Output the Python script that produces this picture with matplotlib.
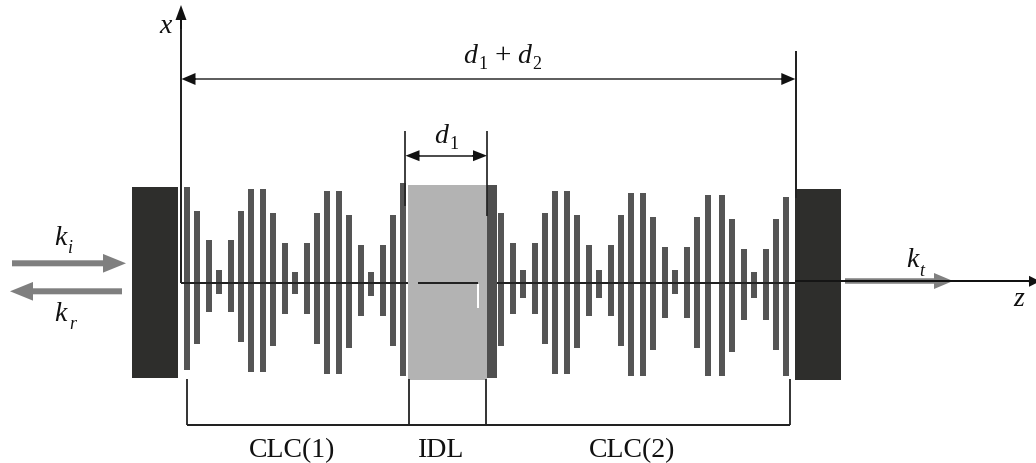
#layered CLC / IDL structure sketch, everything in picture pixel units
import matplotlib
matplotlib.use("Agg")
import matplotlib.pyplot as plt

#grating bars: left edge, top, bottom
clc1_left = [184, 194, 206, 216.3, 228, 238.3, 248.3, 260.3, 270.3, 282.3, 292.3, 304.3, 314.3, 324.3, 336.3, 346.3, 358.3, 368.3, 380.3, 390.3, 400.3]
clc1_top = [187.7, 211.7, 241.3, 271.3, 241.3, 211.7, 189.7, 189.7, 213.7, 243.7, 273.3, 243.7, 213.7, 191.7, 191.7, 215.7, 245.7, 273.3, 245.7, 215.7, 183.7]
clc1_bottom = [371, 345, 313.3, 295.3, 313.3, 343.3, 373, 373, 347, 315.3, 295.3, 315.3, 345, 375, 375, 349, 317, 297.3, 317, 347, 377]

clc2_left = [498.3, 510.3, 520.3, 532.3, 542.3, 552.3, 564.3, 574.3, 586.3, 596.3, 608.3, 618.3, 628.3, 640.3, 650.3, 662.3, 672.3, 684.3, 694.3, 704.7, 718.7, 728.7, 740.7, 750.7, 762.7, 772.7, 782.7]
clc2_top = [213.7, 243.7, 271.3, 243.7, 213.7, 191.7, 191.7, 215.7, 245.7, 271.3, 245.7, 215.7, 193.7, 193.7, 217.7, 247.7, 271.3, 247.7, 217.7, 195.7, 195.7, 219.7, 249.7, 273.3, 249.7, 219.7, 197.7]
clc2_bottom = [347, 315.3, 299.3, 315.3, 345, 375, 375, 349, 317, 299.3, 317, 347, 377, 377, 351, 319, 295.3, 319, 349, 377, 377, 353, 321, 299.3, 321, 351, 377]
bar_width = 6

#blocks: left, right, top, bottom
mirror_left = [132.3, 178.3, 187.7, 379]
mirror_right = [795.3, 840.7, 189.7, 381]
idl_block = [408.3, 486.7, 185.7, 380.7]
thick_bar = [486.7, 496.7, 185.7, 379]

section_ticks = [187, 409, 485.5, 790]
section_names = ["CLC(1)", "IDL", "CLC(2)"]
section_x = [292, 441, 632]

plt.rcParams["font.family"] = ["Liberation Serif", "DejaVu Serif"]
fig = plt.figure(figsize=(10.36, 4.64), dpi=100)
ax = fig.add_axes([0, 0, 1, 1])
ax.set_xlim(0, 1036)
ax.set_ylim(464, 0)
ax.axis("off")


def block(b, color, z=2):
    ax.fill([b[0], b[1], b[1], b[0]], [b[2], b[2], b[3], b[3]], color=color, lw=0, zorder=z)


def line(x, y, w=2, color="#222222", z=5):
    ax.plot(x, y, color=color, lw=w * 0.72, solid_capstyle="butt", zorder=z)


def arrow(x0, y0, x1, y1, shaft, head_w, head_l, color="#111111", z=6):
    ax.arrow(x0, y0, x1 - x0, y1 - y0, width=shaft, head_width=head_w, head_length=head_l,
             length_includes_head=True, color=color, lw=0, zorder=z)


#bars and blocks
for left, top, bottom in zip(clc1_left + clc2_left, clc1_top + clc2_top, clc1_bottom + clc2_bottom):
    block([left, left + bar_width, top, bottom], "#555555")
block(mirror_left, "#2e2e2c")
block(mirror_right, "#2e2e2c")
block(idl_block, "#b3b3b3", 3)
block(thick_bar, "#4f4f4f", 3)

#z axis, broken inside the IDL
line([181, 408], [284.3, 284.3])
line([418.3, 478], [284.3, 284.3])
line([496.7, 795], [284.3, 284.3])
line([795, 845], [282.3, 282.3], color="#151515")
line([845, 1030], [282.3, 282.3], color="#111111")
line([477.5, 477.5], [285, 309], w=2, color="white")
arrow(1028, 282.3, 1040, 282.3, 1.6, 11, 11)

#x axis
line([181, 181], [20, 284.3])
arrow(181, 30, 181, 6, 1.6, 11, 15)

#width markers
line([195, 782], [80, 80], w=1.7, color="#444444")
arrow(196, 80, 181.5, 80, 1.2, 12, 14)
arrow(781, 80, 795.3, 80, 1.2, 12, 14)
line([795.5, 795.5], [52, 199])
line([405, 405], [132, 207], w=1.7)
line([487.3, 487.3], [132, 217], w=1.7)
line([418, 474], [156.7, 156.7], w=1.6, color="#222222")
arrow(420, 156.7, 405.5, 156.7, 1.2, 11, 14)
arrow(472, 156.7, 487, 156.7, 1.2, 11, 14)

#section bracket
line([section_ticks[0], section_ticks[-1]], [426, 426], w=2)
for tick in section_ticks:
    line([tick, tick], [380, 426], w=1.8)
for name, x_pos in zip(section_names, section_x):
    ax.text(x_pos, 457, name, fontsize=20, ha="center", va="baseline", color="#111111")

#wave arrows
arrow(12, 264.3, 126, 264.3, 6, 18.7, 23, color="#7f7f7f")
arrow(122, 292.3, 10, 292.3, 6, 18.7, 23, color="#7f7f7f")
arrow(845, 282, 953, 282, 5.5, 16, 19, color="#808080", z=4)


def label(x, y, s, size=20, style="italic"):
    ax.text(x, y, s, fontsize=size, style=style, ha="left", va="baseline", color="#111111", zorder=7)


label(159, 33, "x")
label(1013, 306, "z")
label(54, 245, "k")
label(68, 253, "i", 13)
label(54, 320.7, "k")
label(69, 329, "r", 13)
label(906, 266.7, "k")
label(919, 275.7, "t", 13)
label(463, 63, "d")
label(478, 69, "1", 13, "normal")
label(494, 63, "+", 21, "normal")
label(517, 63, "d")
label(532, 69, "2", 13, "normal")
label(434, 143, "d")
label(449, 149, "1", 13, "normal")

fig.savefig("out.png", dpi=100)
